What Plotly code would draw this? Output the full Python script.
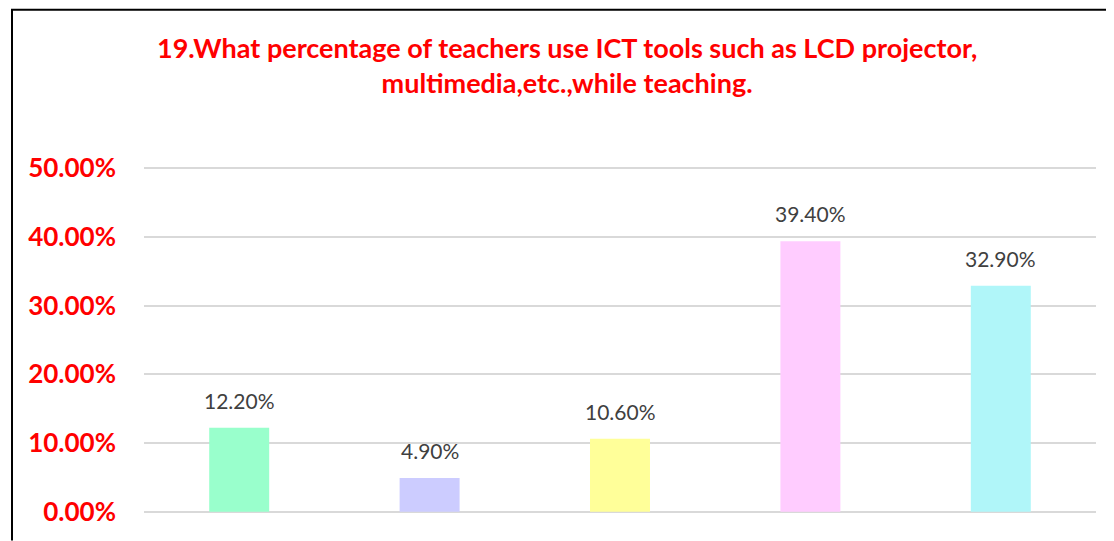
import plotly.graph_objects as go

categories = ["A", "B", "C", "D", "E"]
values = [0.122, 0.049, 0.106, 0.394, 0.329]
labels = ["12.20%", "4.90%", "10.60%", "39.40%", "32.90%"]
colors = ["#99FFCC", "#CCCCFF", "#FFFF99", "#FFCCFF", "#B0F6F9"]
tick_vals = [0, 0.1, 0.2, 0.3, 0.4, 0.5]
tick_text = ["0.00%", "10.00%", "20.00%", "30.00%", "40.00%", "50.00%"]
title_text = ("19.What percentage of teachers use ICT tools such as LCD projector,"
              "<br>multimedia,etc.,while teaching.")

# page body has an 8px margin; work in screen coordinates and compensate
OFF = 8
W, H = 1114 - OFF, 541 - OFF
EXT = 0.002
pxu = 344 / 0.5
L = 144 - OFF
R = W - (1096 - OFF)
T = (168 - OFF) - EXT * pxu
B = H - (512 - OFF) - EXT * pxu
pw, ph = W - L - R, H - T - B

def px(xs):
    return (xs - OFF - L) / pw

def py(ys):
    return (H - B - (ys - OFF)) / ph

fig = go.Figure()
fig.add_trace(go.Bar(x=categories, y=values, marker=dict(color=colors, line=dict(width=0)),
                     width=0.315, showlegend=False, hoverinfo="skip"))

annotations = []
for c, v, t in zip(categories, values, labels):
    annotations.append(dict(x=c, y=v, xref="x", yref="y", text=t, showarrow=False,
                            yanchor="bottom", yshift=13,
                            font=dict(family="Lato", size=21, color="#404040")))
annotations.append(dict(x=px(567), y=py(64.5), xref="paper", yref="paper", text=title_text,
                        showarrow=False, xanchor="center", yanchor="middle",
                        font=dict(family="Lato", size=27, color="#FF0000", weight="bold")))

shapes = [
    dict(type="line", xref="paper", yref="paper", x0=px(11), x1=px(1114), y0=py(OFF + 1), y1=py(OFF + 1),
         line=dict(color="black", width=2)),
    dict(type="line", xref="paper", yref="paper", x0=px(12), x1=px(12), y0=py(OFF + 1), y1=py(541),
         line=dict(color="black", width=2)),
]

fig.update_layout(
    width=W, height=H,
    margin=dict(l=L, r=R, t=T, b=B, pad=0),
    paper_bgcolor="white", plot_bgcolor="white",
    annotations=annotations, shapes=shapes,
)
fig.update_xaxes(showticklabels=False, showgrid=False, zeroline=False, showline=False)
fig.update_yaxes(range=[-EXT, 0.5 + EXT], tickvals=tick_vals, ticktext=tick_text,
                 showgrid=True, gridcolor="#D9D9D9", gridwidth=1.5, zeroline=False,
                 showline=False, ticks="", ticklabelstandoff=27,
                 tickfont=dict(family="Lato", size=26, color="#FF0000", weight="bold"))

fig.write_html("out.html")
